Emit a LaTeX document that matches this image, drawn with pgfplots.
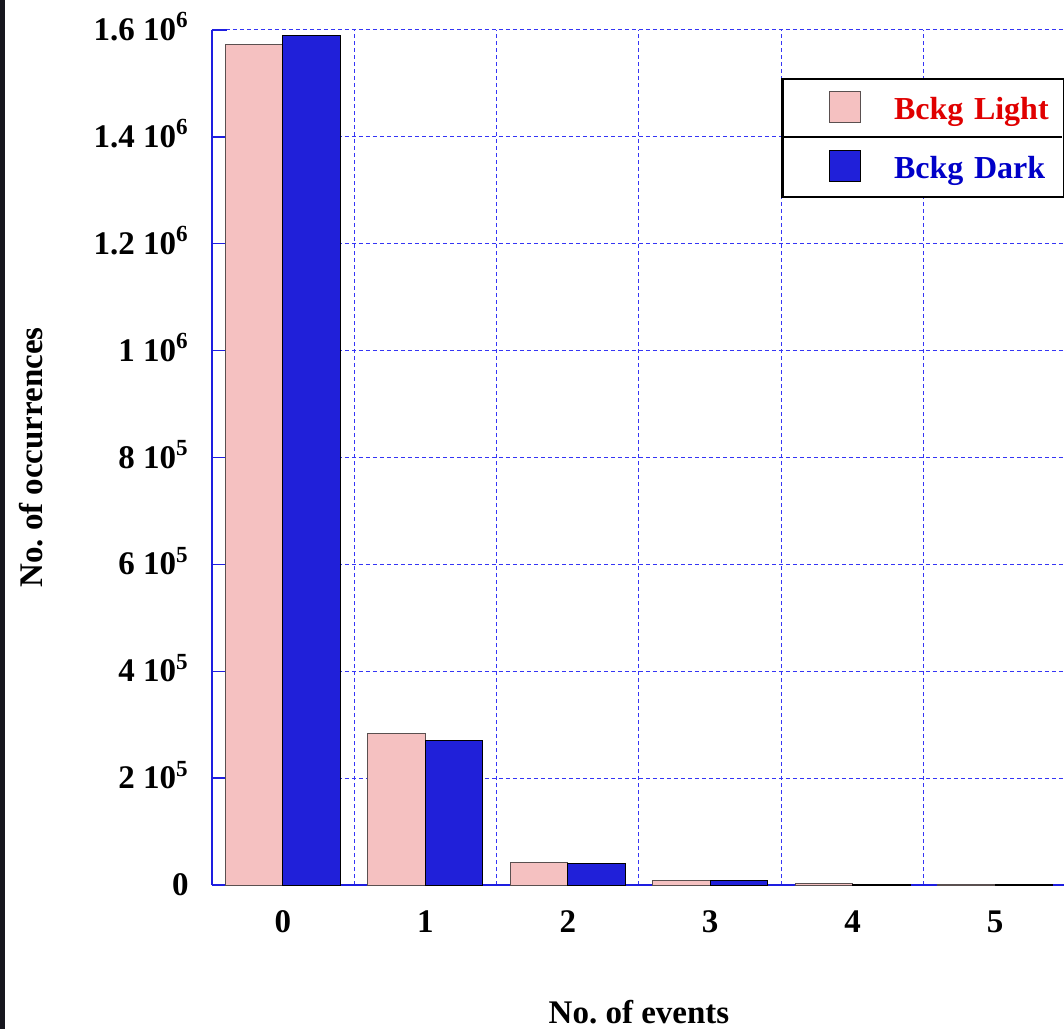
\documentclass[border=0pt]{standalone}
\usepackage{fontspec}
\setmainfont{Liberation Serif}
\usepackage{pgfplots}
\pgfplotsset{compat=1.18}
\definecolor{lightbar}{HTML}{F5C1C1}
\definecolor{lightedge}{HTML}{5A5050}
\definecolor{darkbar}{HTML}{2020D9}
\definecolor{legred}{HTML}{E00000}
\definecolor{legblue}{HTML}{0000C8}
\definecolor{gridblue}{HTML}{3535F5}
\definecolor{axiscol}{HTML}{1E1EE0}
\definecolor{strip}{HTML}{16161E}
\newcommand{\lf}{\fontsize{16.5}{19}\selectfont\bfseries}
\newcommand{\legf}{\fontsize{16}{19}\selectfont\bfseries}
\pgfplotsset{mylegimg/.style={legend image code/.code={%
  \path[draw=none, fill=none] (-23.5pt,0pt) -- (0pt,0pt);
  \draw[##1, line width=0.5pt] (0pt,-6.75pt) rectangle (15.5pt,8.75pt);}}}
\begin{document}
\begin{tikzpicture}
\begin{axis}[
  at={(0,0)}, anchor=south west,
  scale only axis, width=427.2pt, height=427.5pt,
  xmin=-0.5, xmax=5.5, ymin=0, ymax=1.6e6,
  ybar, bar width=28.75pt,
  axis x line*=bottom, axis y line*=left,
  every inner x axis line/.append style={-},
  every inner y axis line/.append style={-},
  axis line style={axiscol, line width=0.75pt, -},
  xtick={0,1,2,3,4,5}, xticklabels={0,1,2,3,4,5},
  xtick style={draw=none},
  minor xtick={0.5,1.5,2.5,3.5,4.5},
  minor x tick style={draw=none},
  xminorgrids,
  minor grid style={gridblue, line width=0.5pt, dash pattern=on 2pt off 1.5pt},
  ytick={0,200000,400000,600000,800000,1000000,1200000,1400000,1600000},
  yticklabels={0, 2 10\textsuperscript{5}, 4 10\textsuperscript{5}, 6 10\textsuperscript{5}, 8 10\textsuperscript{5}, 1 10\textsuperscript{6}, 1.2 10\textsuperscript{6}, 1.4 10\textsuperscript{6}, 1.6 10\textsuperscript{6}},
  scaled y ticks=false,
  ymajorgrids,
  major grid style={gridblue, line width=0.5pt, dash pattern=on 2pt off 1.5pt},
  ytick style={axiscol, line width=0.75pt},
  major tick length=7.5pt, tick align=inside,
  xticklabel style={font=\lf, inner sep=0pt, anchor=base, yshift=-23.5pt},
  yticklabel style={font=\lf, inner sep=0pt, anchor=base east, xshift=-11.4pt, yshift=-5.25pt},
  xlabel={No.\ of events},
  xlabel style={font=\lf, at={(rel axis cs:0.5,0)}, anchor=base, yshift=-69pt},
  ylabel={No.\ of occurrences},
  ylabel style={font=\lf, at={(rel axis cs:-0.1987,0.5)}, anchor=base, rotate=0},
  legend style={at={(axis cs:3.5,1.5102e6)}, anchor=north west, draw=black,
    line width=1.1pt, fill=white, inner xsep=0pt, inner ysep=0pt,
    row sep=0pt, column sep=16.5pt, font=\legf,
    nodes={inner sep=0pt, text height=20.25pt, text depth=9.25pt, text width=85pt, align=left}},
  legend cell align=left,
]
\addplot[fill=lightbar, draw=lightedge, line width=0.5pt, bar shift=-14.375pt, mylegimg]
  coordinates {(0,1572000) (1,283900) (2,42500) (3,8800) (4,2000) (5,300)};
\addlegendentry{\textcolor{legred}{Bckg Light}}
\addplot[fill=darkbar, draw=black, line width=0.5pt, bar shift=14.375pt, mylegimg]
  coordinates {(0,1589000) (1,270000) (2,40600) (3,8000) (4,1800) (5,250)};
\addlegendentry{\textcolor{legblue}{Bckg Dark}}
\coordinate (sepL) at (axis cs:3.5,1.39977e6);
\coordinate (sepR) at (axis cs:5.4733,1.39977e6);
\end{axis}
\draw[black, line width=1.1pt] (sepL) -- (sepR);
\fill[strip] (-105.9pt,-72pt) rectangle (-103.4pt,442.5pt);
\pgfresetboundingbox
\path (-105.9pt,-72pt) rectangle (426.1pt,442.5pt);
\end{tikzpicture}
\end{document}
